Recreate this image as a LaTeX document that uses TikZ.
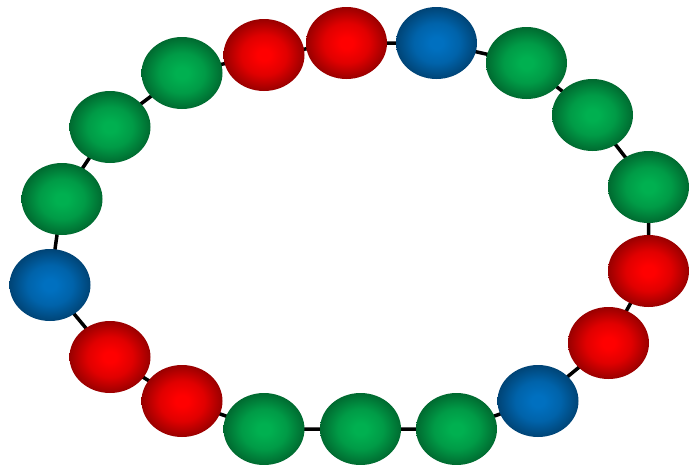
\documentclass[tikz,border=0pt]{standalone}
\usetikzlibrary{shapes.geometric,backgrounds}
\definecolor{rin}{HTML}{FF0000}
\definecolor{rout}{HTML}{990000}
\definecolor{gin}{HTML}{00B050}
\definecolor{gout}{HTML}{006A30}
\definecolor{bin}{HTML}{0070C0}
\definecolor{bout}{HTML}{004476}
\pgfdeclareradialshading{redball}{\pgfpoint{0bp}{0bp}}{color(0bp)=(rin); color(4bp)=(rin); color(14bp)=(rin!70!rout); color(25bp)=(rout); color(50bp)=(rout)}
\pgfdeclareradialshading{greenball}{\pgfpoint{0bp}{0bp}}{color(0bp)=(gin); color(4bp)=(gin); color(14bp)=(gin!70!gout); color(25bp)=(gout); color(50bp)=(gout)}
\pgfdeclareradialshading{blueball}{\pgfpoint{0bp}{0bp}}{color(0bp)=(bin); color(4bp)=(bin); color(14bp)=(bin!70!bout); color(25bp)=(bout); color(50bp)=(bout)}
\tikzset{
  bead/.style={ellipse, minimum width=81pt, minimum height=72pt, inner sep=0pt},
  redbead/.style={bead, shading=redball},
  greenbead/.style={bead, shading=greenball},
  bluebead/.style={bead, shading=blueball},
  link/.style={line width=3.5pt, black}
}
\begin{document}
\begin{tikzpicture}[x=1pt,y=-1pt]
\useasboundingbox (0,0) rectangle (697,464);
\node[redbead]   (n1)  at (264,55) {};
\node[redbead]   (n2)  at (346.5,43) {};
\node[bluebead]  (n3)  at (436.5,43) {};
\node[greenbead] (n4)  at (526.5,63) {};
\node[greenbead] (n5)  at (592.5,115) {};
\node[greenbead] (n6)  at (648.5,187) {};
\node[redbead]   (n7)  at (648.5,271) {};
\node[redbead]   (n8)  at (608.5,343) {};
\node[bluebead]  (n9)  at (538,401) {};
\node[greenbead] (n10) at (456.5,429) {};
\node[greenbead] (n11) at (360.5,429) {};
\node[greenbead] (n12) at (264,429) {};
\node[redbead]   (n13) at (182,401) {};
\node[redbead]   (n14) at (110,357) {};
\node[bluebead]  (n15) at (50,285) {};
\node[greenbead] (n16) at (62,199) {};
\node[greenbead] (n17) at (110,127) {};
\node[greenbead] (n18) at (182,73) {};
\begin{scope}[on background layer]
\draw[link] (n1.center) -- (n2.center) -- (n3.center) -- (n4.center) -- (n5.center) -- (n6.center) -- (n7.center) -- (n8.center) -- (n9.center) -- (n10.center) -- (n11.center) -- (n12.center) -- (n13.center) -- (n14.center) -- (n15.center) -- (n16.center) -- (n17.center) -- (n18.center) -- cycle;
\end{scope}
\end{tikzpicture}
\end{document}
